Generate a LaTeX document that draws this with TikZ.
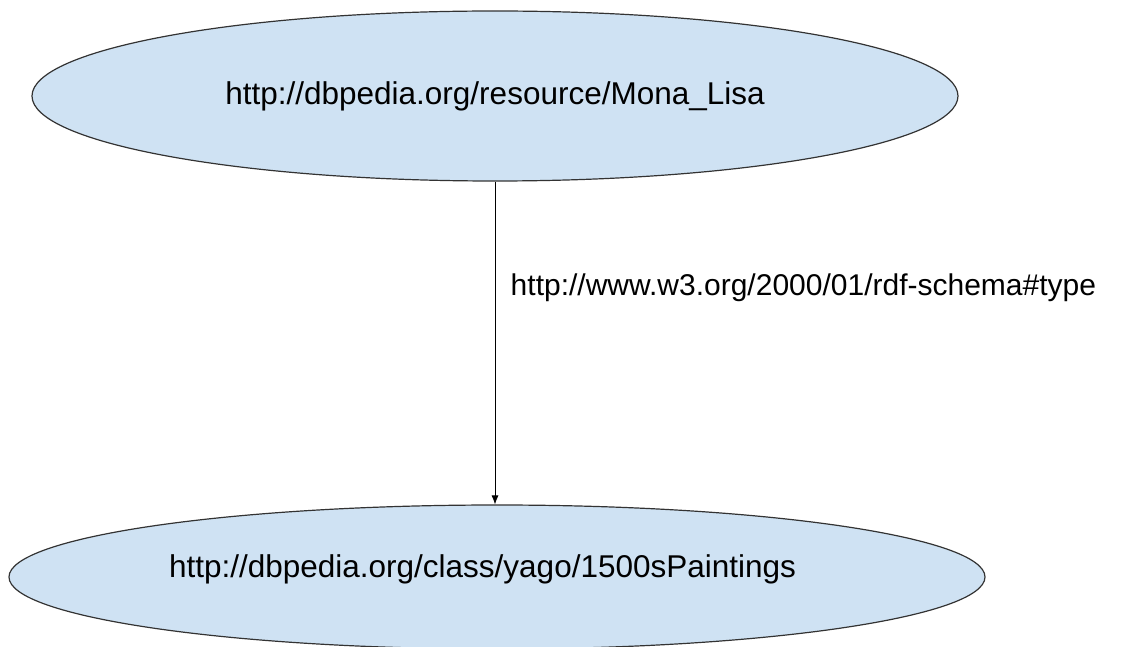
\documentclass[tikz,border=0pt]{standalone}
\usepackage{fontspec}
\setmainfont{Liberation Sans}
\usetikzlibrary{shapes.geometric,arrows.meta}
\definecolor{myLightBlue}{RGB}{207,226,243}
\definecolor{myEdge}{RGB}{51,51,51}

\begin{document}
\begin{tikzpicture}[%
    x=1pt, y=1pt,
    every node/.style={
        font=\fontsize{30}{36}\selectfont,
    },
    resource/.style={
        ellipse,
        draw=myEdge,
        line width=1.2pt,
        fill=myLightBlue,
        inner sep=0pt,
        font=\fontsize{31.5}{38}\selectfont,
    },
]
\useasboundingbox (0,0) rectangle (1128,-647);

% draw the two resources
\node[resource, minimum width=926pt, minimum height=170pt] (mona) at (495,-96)
    {http://dbpedia.org/resource/Mona\_Lisa};
\node[resource, minimum width=976pt, minimum height=144pt] (paintings) at (497,-577) {};
\node[font=\fontsize{31.5}{38}\selectfont] (paintingsText) at (482.5,-569)
    {http://dbpedia.org/class/yago/1500sPaintings};

% draw the property
\draw[line width=0.8pt,-{Latex[length=9pt,width=7pt]}] (mona.south) -- (mona.south |- paintings.north)
    node[pos=0.33, anchor=west, xshift=12pt] (typeLabel) {http://www.w3.org/2000/01/rdf-schema\#type};

\end{tikzpicture}
\end{document}
